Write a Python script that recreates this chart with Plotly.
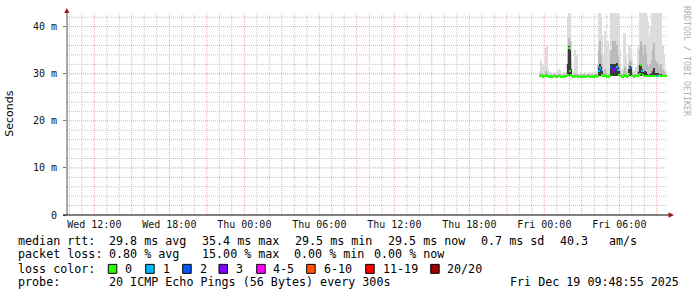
import plotly.graph_objects as go
import pandas as pd

# ---------------- data ----------------
# 5-minute RRD steps (end of step), Thu 2025-12-18 23:40 .. Fri 2025-12-19 09:45
step_end = pd.date_range("2025-12-18 23:40", "2025-12-19 09:45", freq="5min")

median_ms = [
    29.5, 29.6, 29.5, 29.4, 29.5, 29.6, 29.7, 29.6, 29.5, 29.4,
    29.4, 29.5, 29.4, 29.4, 29.5, 29.5, 29.4, 29.4, 29.5, 29.6,
    29.5, 29.4, 29.4, 29.5, 29.4, 29.5, 29.6, 29.8, 35.5, 30.5,
    29.7, 29.5, 29.4, 29.4, 29.5, 29.6, 29.5, 29.4, 29.4, 29.4,
    29.5, 29.4, 29.4, 29.5, 29.4, 29.4, 29.5, 29.5, 29.4, 29.4,
    29.5, 29.4, 29.4, 29.5, 29.5, 29.4, 29.5, 30.6, 31.2, 30.8,
    29.8, 29.5, 29.6, 29.7, 29.5, 29.4, 29.4, 29.5, 29.6, 31.4,
    31.0, 30.6, 31.1, 31.3, 31.5, 30.8, 29.8, 29.6, 29.5, 29.4,
    29.4, 29.6, 29.7, 29.5, 29.4, 29.5, 30.0, 31.3, 31.2, 29.6,
    29.5, 29.4, 29.5, 29.5, 29.6, 29.7, 30.0, 31.9, 30.5, 29.8,
    29.5, 29.6, 29.6, 29.5, 29.5, 29.6, 29.5, 29.5, 29.6, 29.6,
    29.5, 29.6, 29.5, 29.5, 29.6, 29.5, 29.5, 29.6, 29.5, 29.5,
    29.5, 29.5,
]
ping_min = [
    29.4, 29.5, 29.4, 29.3, 29.4, 29.5, 29.5, 29.5, 29.4, 29.3,
    29.3, 29.4, 29.3, 29.3, 29.4, 29.4, 29.3, 29.3, 29.4, 29.5,
    29.4, 29.3, 29.3, 29.4, 29.3, 29.4, 29.5, 29.5, 29.6, 29.5,
    29.5, 29.4, 29.3, 29.3, 29.4, 29.5, 29.4, 29.3, 29.3, 29.3,
    29.4, 29.3, 29.3, 29.4, 29.3, 29.3, 29.4, 29.4, 29.3, 29.3,
    29.4, 29.3, 29.3, 29.4, 29.4, 29.3, 29.4, 29.5, 29.6, 29.5,
    29.5, 29.4, 29.5, 29.5, 29.4, 29.3, 29.3, 29.4, 29.5, 29.6,
    29.6, 29.6, 29.6, 29.6, 29.6, 29.5, 29.5, 29.5, 29.4, 29.3,
    29.3, 29.5, 29.5, 29.4, 29.3, 29.4, 29.5, 29.6, 29.6, 29.5,
    29.4, 29.3, 29.4, 29.4, 29.5, 29.5, 29.5, 29.6, 29.5, 29.5,
    29.4, 29.5, 29.5, 29.4, 29.4, 29.5, 29.4, 29.4, 29.5, 29.5,
    29.4, 29.5, 29.4, 29.4, 29.5, 29.4, 29.4, 29.5, 29.4, 29.4,
    29.4, 29.4,
]
ping_p75 = [
    29.7, 29.8, 29.7, 29.6, 29.7, 29.8, 29.9, 29.8, 29.7, 29.6,
    29.6, 29.7, 29.6, 29.6, 29.7, 29.7, 29.6, 29.6, 29.7, 29.8,
    29.7, 29.6, 29.6, 29.7, 29.6, 29.7, 29.8, 32.0, 35.8, 35.0,
    31.0, 29.7, 29.6, 29.6, 29.7, 29.8, 29.7, 29.6, 29.6, 29.6,
    29.7, 29.6, 29.6, 29.7, 29.6, 29.6, 29.7, 29.7, 29.6, 29.6,
    29.7, 29.6, 29.6, 29.7, 29.7, 29.6, 29.7, 31.5, 32.0, 31.5,
    30.5, 29.7, 29.8, 29.9, 29.7, 29.6, 29.6, 29.7, 29.8, 32.0,
    32.0, 31.5, 32.0, 32.0, 32.2, 31.5, 30.5, 29.8, 29.7, 29.6,
    29.6, 29.8, 29.9, 29.7, 29.6, 29.7, 31.0, 31.6, 31.5, 29.8,
    29.7, 29.6, 29.7, 29.7, 29.8, 30.3, 31.8, 32.1, 31.0, 30.3,
    30.0, 30.6, 30.3, 30.0, 29.8, 29.8, 30.0, 29.8, 30.1, 30.6,
    31.2, 30.2, 29.8, 30.1, 30.1, 29.8, 29.7, 29.9, 29.7, 29.7,
    29.7, 29.7,
]
ping_p90 = [
    29.9, 30.1, 29.9, 29.8, 29.9, 30.0, 30.6, 30.3, 29.9, 29.8,
    29.8, 29.9, 29.8, 29.8, 29.9, 29.9, 29.8, 29.8, 29.9, 30.0,
    29.9, 29.8, 29.8, 29.9, 29.8, 29.9, 30.1, 35.0, 37.5, 37.0,
    33.0, 29.9, 29.8, 29.8, 30.2, 30.0, 29.9, 29.8, 29.8, 29.8,
    29.9, 29.8, 29.8, 29.9, 29.8, 29.8, 29.9, 29.9, 29.8, 29.8,
    29.9, 29.8, 29.8, 29.9, 29.9, 29.8, 30.0, 35.0, 37.0, 34.0,
    32.0, 29.9, 30.2, 31.0, 30.1, 29.8, 29.8, 29.9, 30.0, 35.0,
    37.0, 36.0, 37.0, 35.0, 36.0, 34.0, 32.0, 30.6, 29.9, 29.8,
    29.9, 30.6, 31.5, 30.3, 29.8, 29.9, 32.0, 33.0, 32.5, 30.3,
    29.9, 29.8, 29.9, 30.0, 30.6, 32.0, 35.0, 37.0, 36.0, 34.0,
    33.0, 36.0, 34.5, 32.0, 31.5, 31.0, 32.0, 31.5, 33.0, 35.0,
    36.5, 33.0, 31.5, 32.5, 32.0, 31.5, 31.0, 32.0, 30.8, 30.3,
    30.0, 29.9,
]
ping_max = [
    30.5, 33.0, 31.5, 32.0, 30.8, 32.5, 35.5, 35.8, 31.0, 30.3,
    30.2, 30.4, 30.1, 30.2, 30.3, 30.2, 30.1, 30.2, 30.6, 31.0,
    30.8, 30.2, 30.1, 30.3, 30.2, 30.4, 32.0, 42.0, 43.0, 42.8,
    37.0, 30.5, 30.2, 30.3, 35.0, 33.0, 34.0, 30.2, 30.1, 30.2,
    30.3, 30.2, 30.1, 30.2, 30.4, 30.2, 30.1, 30.3, 30.2, 30.1,
    30.3, 30.2, 30.2, 30.4, 30.3, 30.5, 32.0, 43.0, 42.9, 42.0,
    38.0, 30.6, 34.0, 39.0, 36.0, 33.0, 37.0, 35.0, 31.5, 42.9,
    42.9, 42.8, 42.9, 42.7, 42.9, 42.8, 40.0, 35.0, 30.8, 30.5,
    31.0, 38.7, 38.5, 34.0, 30.6, 31.0, 36.0, 36.0, 35.0, 33.0,
    30.6, 30.4, 30.8, 31.5, 35.5, 36.0, 42.9, 42.8, 42.9, 42.7,
    42.9, 42.9, 42.8, 42.0, 41.0, 38.0, 37.0, 40.0, 42.9, 42.9,
    42.8, 42.9, 42.0, 42.9, 42.9, 42.8, 42.0, 42.9, 36.0, 34.0,
    31.0, 30.5,
]
loss_count = [
    0, 0, 0, 0, 0, 0, 0, 0, 0, 0,
    0, 0, 0, 0, 0, 0, 0, 0, 0, 0,
    0, 0, 0, 0, 0, 0, 0, 0, 0, 0,
    0, 0, 0, 0, 0, 0, 0, 0, 0, 0,
    0, 0, 0, 0, 0, 0, 0, 0, 0, 0,
    0, 0, 0, 0, 0, 0, 0, 1, 1, 2,
    0, 0, 0, 0, 0, 0, 0, 0, 0, 2,
    3, 3, 3, 2, 1, 1, 0, 0, 0, 0,
    0, 0, 0, 0, 0, 0, 0, 1, 2, 0,
    0, 0, 0, 0, 0, 0, 0, 0, 1, 0,
    0, 0, 0, 0, 0, 0, 0, 0, 0, 0,
    0, 0, 0, 1, 0, 0, 0, 0, 0, 0,
    0, 0,
]

loss_labels = ["0", "1", "2", "3", "4-5", "6-10", "11-19", "20/20"]
loss_colors = ["#26ff00", "#00b8ff", "#0059ff", "#7e00ff", "#ff00ff", "#ff5500", "#ff0000", "#a10000"]

x_tick_times = ["2025-12-17 12:00", "2025-12-17 15:00", "2025-12-17 18:00", "2025-12-17 21:00",
                "2025-12-18 00:00", "2025-12-18 03:00", "2025-12-18 06:00", "2025-12-18 09:00",
                "2025-12-18 12:00", "2025-12-18 15:00", "2025-12-18 18:00", "2025-12-18 21:00",
                "2025-12-19 00:00", "2025-12-19 03:00", "2025-12-19 06:00", "2025-12-19 09:00"]
x_tick_text = ["Wed 12:00", "", "Wed 18:00", "", "Thu 00:00", "", "Thu 06:00", "",
               "Thu 12:00", "", "Thu 18:00", "", "Fri 00:00", "", "Fri 06:00", ""]
y_tick_vals = [0, 10, 20, 30, 40]
y_tick_text = ["0", "10 m", "20 m", "30 m", "40 m"]

stats_rtt = ["29.8 ms avg", "35.4 ms max", "29.5 ms min", "29.5 ms now", "0.7 ms sd", "40.3", "am/s"]
stats_loss = ["0.80 % avg", "15.00 % max", "0.00 % min", "0.00 % now"]
probe_text = "20 ICMP Echo Pings (56 Bytes) every 300s"
stamp_text = "Fri Dec 19 09:48:55 2025"

# minor grid positions (hourly / every 2 ms), skipping the major ones
hours = pd.date_range("2025-12-17 10:00", "2025-12-19 09:00", freq="1h")
x_minor = [h for h in hours if h.hour % 3 != 0]
y_minor = [v for v in range(2, 43, 2) if v % 10 != 0]

# ---------------- layout helpers (pixel -> paper) ----------------
W, H = 697, 297
PL, PR, PT, PB = 67, 667, 13, 215.5


def pxx(x):
    return (x - PL) / (PR - PL)


def pxy(y):
    return (PB - y) / (PB - PT)


def loss_color(n):
    if n == 0:
        return loss_colors[0]
    if n == 1:
        return loss_colors[1]
    if n == 2:
        return loss_colors[2]
    if n == 3:
        return loss_colors[3]
    if n <= 5:
        return loss_colors[4]
    if n <= 10:
        return loss_colors[5]
    if n <= 19:
        return loss_colors[6]
    return loss_colors[7]


STEP = 300000  # 5 minutes in ms

fig = go.Figure()
bands = [(ping_max, "#dcdcdc"), (ping_p90, "#bababa"), (ping_p75, "#3a3a3a")]
for top, col in bands:
    fig.add_trace(go.Bar(
        x=step_end, y=[t - b for t, b in zip(top, ping_min)], base=ping_min,
        width=STEP, offset=-STEP, marker=dict(color=col, line=dict(width=0)),
        hoverinfo="skip", showlegend=False))

fig.add_trace(go.Bar(
    x=step_end, y=[0.44] * len(median_ms), base=[m - 0.22 for m in median_ms],
    width=STEP, offset=-STEP,
    marker=dict(color=[loss_color(n) for n in loss_count], line=dict(width=0)),
    hoverinfo="skip", showlegend=False))

MONO = "DejaVu Sans Mono"
grid_major = "#efa0a0"
grid_minor = "#c2c2c2"
DASH = "1px,1px"

fig.update_layout(
    width=W, height=H,
    margin=dict(l=PL, r=W - PR, t=PT, b=H - PB),
    paper_bgcolor="white", plot_bgcolor="white",
    barmode="overlay", bargap=0,
    showlegend=False,
    font=dict(family=MONO, size=10, color="#000"),
    xaxis=dict(
        type="date", range=["2025-12-17 09:48:55", "2025-12-19 09:48:55"],
        tickmode="array", tickvals=x_tick_times, ticktext=x_tick_text,
        showgrid=False, ticks="", showline=False, zeroline=False,
        tickfont=dict(family=MONO, size=10, color="#111"),
        ticklabelstandoff=2,
        fixedrange=True,
    ),
    yaxis=dict(
        range=[0, 42.9], tickmode="array", tickvals=y_tick_vals, ticktext=y_tick_text,
        showgrid=False, ticks="outside", ticklen=3, tickcolor="#777",
        showline=False, zeroline=False,
        tickfont=dict(family=MONO, size=10, color="#111"),
        ticklabelstandoff=4,
        fixedrange=True,
    ),
)

shapes = []
# grid (drawn as dotted lines below the data)
for t in x_minor:
    shapes.append(dict(type="line", layer="below", xref="x", yref="paper", x0=t, x1=t, y0=0, y1=1,
                       line=dict(color=grid_minor, width=1, dash=DASH)))
for v in y_minor:
    shapes.append(dict(type="line", layer="below", xref="paper", yref="y", x0=0, x1=1, y0=v, y1=v,
                       line=dict(color=grid_minor, width=1, dash=DASH)))
for t in x_tick_times:
    shapes.append(dict(type="line", layer="below", xref="x", yref="paper", x0=t, x1=t, y0=0, y1=1,
                       line=dict(color=grid_major, width=1, dash=DASH)))
for v in y_tick_vals[1:]:
    shapes.append(dict(type="line", layer="below", xref="paper", yref="y", x0=0, x1=1, y0=v, y1=v,
                       line=dict(color=grid_major, width=1, dash=DASH)))

# axes lines with arrows
shapes.append(dict(type="line", xref="paper", yref="paper", x0=pxx(PL), x1=pxx(PL),
                   y0=pxy(PB), y1=pxy(11), line=dict(color="#555", width=1)))
shapes.append(dict(type="line", xref="paper", yref="paper", x0=pxx(63), x1=pxx(670),
                   y0=pxy(PB), y1=pxy(PB), line=dict(color="#000", width=1)))
shapes.append(dict(type="path", xref="paper", yref="paper",
                   path=f"M {pxx(66.8)},{pxy(8)} L {pxx(64.2)},{pxy(13)} L {pxx(69.4)},{pxy(13)} Z",
                   fillcolor="#9a1a1a", line=dict(width=0)))
shapes.append(dict(type="path", xref="paper", yref="paper",
                   path=f"M {pxx(674)},{pxy(PB)} L {pxx(668.5)},{pxy(212.8)} L {pxx(668.5)},{pxy(218.2)} Z",
                   fillcolor="#9a1a1a", line=dict(width=0)))

annotations = []
NB = "\u00a0"


def txt(x, y, s, size=11.7, anchor="left", color="#000", family=MONO, angle=0, yanchor="middle"):
    annotations.append(dict(xref="paper", yref="paper", x=pxx(x), y=pxy(y),
                            text=s.replace(" ", NB), showarrow=False, xanchor=anchor,
                            yanchor=yanchor, textangle=angle,
                            font=dict(family=family, size=size, color=color)))


# vertical axis title and watermark
txt(10, 114, "Seconds", size=11, anchor="center", family="DejaVu Sans", angle=-90)
annotations.append(dict(xref="paper", yref="paper", x=pxx(687), y=pxy(4),
                        text="RRDTOOL / TOBI OETIKER".replace(" ", NB),
                        showarrow=False, xanchor="center", yanchor="top", textangle=90,
                        font=dict(family=MONO, size=8.3, color="#b0b0b0")))

# legend lines
L1, L2, L3, L4 = 241.7, 255.0, 269.3, 282.7
txt(16, L1, "median rtt:")
for xs, s in zip([107.3, 200, 293, 386, 479, 558.3, 606.7], stats_rtt):
    txt(xs, L1, s)
txt(16, L2, "packet loss:")
for xs, s in zip([107.3, 200, 292.3, 372.3], stats_loss):
    txt(xs, L2, s)
txt(16, L3, "loss color:")
sq_x = [108.3, 145.7, 182.7, 219, 256.7, 306.7, 365.7, 430.7]
lb_x = [123.3, 161, 197.7, 234, 270.7, 321.7, 380.7, 445.3]
for sx, lx, lab, col in zip(sq_x, lb_x, loss_labels, loss_colors):
    shapes.append(dict(type="rect", xref="paper", yref="paper",
                       x0=pxx(sx), x1=pxx(sx + 8.5), y0=pxy(265), y1=pxy(274),
                       fillcolor=col, line=dict(color="#000", width=1)))
    txt(lx, L3, lab)
txt(16, L4, "probe:")
txt(107.3, L4, probe_text)
txt(680.5, L4, stamp_text, anchor="right")

fig.update_layout(shapes=shapes, annotations=annotations)
fig.write_html("out.html")
